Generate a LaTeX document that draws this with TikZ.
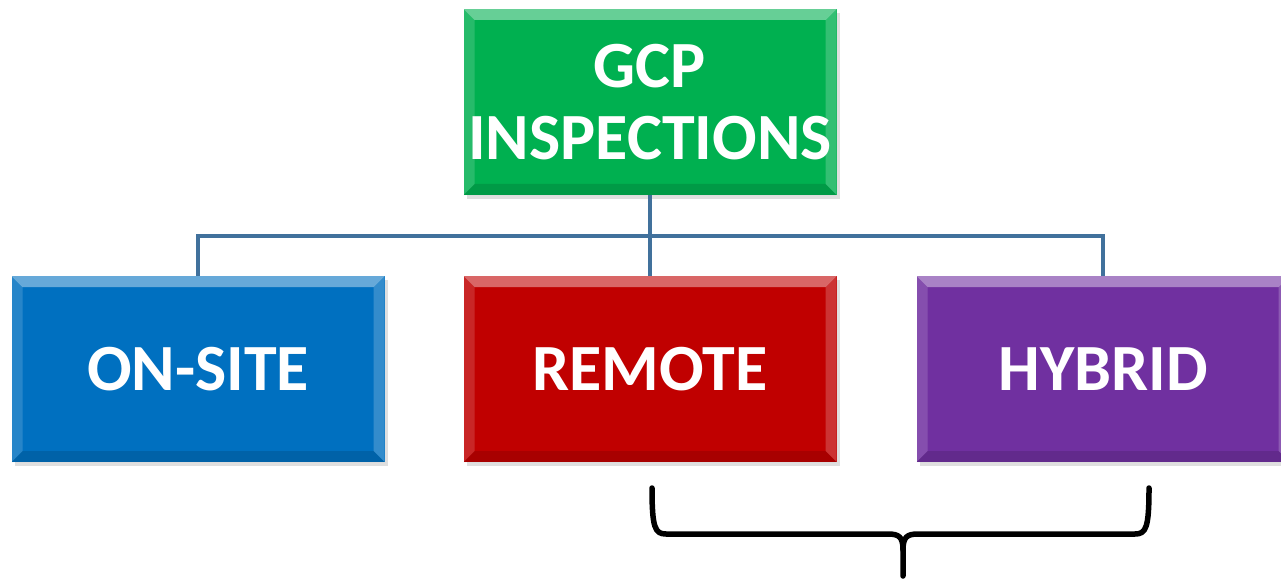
\documentclass[tikz,border=0pt]{standalone}
\usepackage{fontspec}
\setmainfont{Carlito}
\usetikzlibrary{shadows}
\definecolor{gcpgreen}{HTML}{00B050}
\definecolor{sitblue}{HTML}{0070C0}
\definecolor{remred}{HTML}{C00000}
\definecolor{hybpurple}{HTML}{7030A0}
\definecolor{linkblue}{HTML}{41719C}
\begin{document}
\begin{tikzpicture}[x=1pt,y=-1pt,
    box/.style={rectangle, minimum width=373pt, minimum height=186pt, inner sep=0pt,
      text=white, align=center, font=\fontsize{66}{72}\selectfont\bfseries,
      drop shadow={shadow xshift=3pt, shadow yshift=-4pt, opacity=0.25}, bevel},
    bevel/.style={path picture={
      \fill[white,opacity=0.4] (path picture bounding box.north west) -- (path picture bounding box.north east)
        -- ([xshift=-11pt,yshift=-11pt]path picture bounding box.north east) -- ([xshift=11pt,yshift=-11pt]path picture bounding box.north west) -- cycle;
      \fill[white,opacity=0.15] (path picture bounding box.north west) -- ([xshift=11pt,yshift=-11pt]path picture bounding box.north west)
        -- ([xshift=11pt,yshift=11pt]path picture bounding box.south west) -- (path picture bounding box.south west) -- cycle;
      \fill[white,opacity=0.2] (path picture bounding box.north east) -- ([xshift=-11pt,yshift=-11pt]path picture bounding box.north east)
        -- ([xshift=-11pt,yshift=11pt]path picture bounding box.south east) -- (path picture bounding box.south east) -- cycle;
      \fill[black,opacity=0.12] (path picture bounding box.south west) -- ([xshift=11pt,yshift=11pt]path picture bounding box.south west)
        -- ([xshift=-11pt,yshift=11pt]path picture bounding box.south east) -- (path picture bounding box.south east) -- cycle;
    }},
    link/.style={draw=linkblue, line width=4pt},
    brace/.style={draw=black, line width=5.5pt, line cap=round, line join=round}]
  \useasboundingbox (0,0) rectangle (1281,580);
  % connectors first, boxes on top
  \coordinate (hub) at (650,236);
  \node[box, fill=gcpgreen] (gcp) at (650,102) {GCP\\INSPECTIONS};
  \node[box, fill=sitblue] (onsite) at (198,369) {ON-SITE};
  \node[box, fill=remred] (remote) at (650,369) {REMOTE};
  \node[box, fill=hybpurple] (hybrid) at (1103,369) {HYBRID};
  \draw[link] (gcp.south) -- (remote.north);
  \draw[link] (onsite.north) |- (hub) -| (hybrid.north);
  % brace under remote and hybrid
  \coordinate (braceL) at (652,488);
  \coordinate (braceR) at (1149,488);
  \coordinate (braceTip) at (903,576);
  \draw[brace] (braceL) .. controls (652,528) and (655,534) .. (666,534) -- (888,534)
    .. controls (899,534) and (903,537) .. (903,550) -- (braceTip);
  \draw[brace] (braceR) .. controls (1149,528) and (1146,534) .. (1135,534) -- (918,534)
    .. controls (907,534) and (903,537) .. (903,550);
\end{tikzpicture}
\end{document}
